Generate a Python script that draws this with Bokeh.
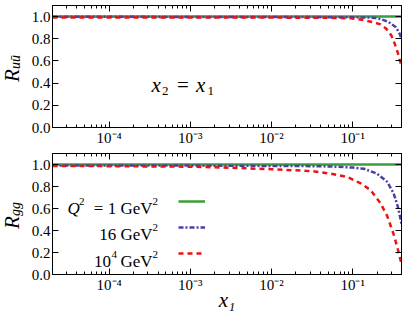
from bokeh.plotting import figure
from bokeh.layouts import column, row
from bokeh.models import (LogAxis, LinearAxis, FixedTicker, PrintfTickFormatter,
                          Label, Range1d, Legend, LegendItem)
from bokeh.embed import file_html
from bokeh.resources import INLINE

# ---------------- data ----------------
X_RANGE = (2e-5, 0.4)
Y_RANGE = (0.0, 1.1)

x_major = [1e-4, 1e-3, 1e-2, 1e-1]
x_major_labels = ["10⁻⁴", "10⁻³", "10⁻²", "10⁻¹"]
y_major = [0.0, 0.2, 0.4, 0.6, 0.8, 1.0]

series_names = ["Q² = 1 GeV²", "16 GeV²", "10⁴ GeV²"]

# R_{u ubar}
uu_q1_x = [2e-5, 1e-3, 0.1, 0.4]
uu_q1_y = [1.0, 1.0, 1.0, 1.0]
uu_q16_x = [2e-5, 1e-4, 1e-3, 1e-2, 0.05, 0.1, 0.15, 0.19, 0.22, 0.27, 0.30, 0.34, 0.37, 0.38, 0.40]
uu_q16_y = [0.998, 0.998, 0.997, 0.996, 0.995, 0.994, 0.992, 0.988, 0.978, 0.955, 0.935, 0.905, 0.86, 0.845, 0.80]
uu_q1e4_x = [2e-5, 1e-4, 1e-3, 1e-2, 0.03, 0.06, 0.095, 0.13, 0.158, 0.19, 0.22, 0.26, 0.30, 0.33, 0.36, 0.38, 0.40]
uu_q1e4_y = [0.992, 0.992, 0.992, 0.991, 0.99, 0.988, 0.984, 0.972, 0.958, 0.945, 0.93, 0.89, 0.83, 0.756, 0.675, 0.61, 0.56]

# R_{gg}
gg_q1_x = [2e-5, 1e-3, 0.1, 0.4]
gg_q1_y = [1.0, 1.0, 1.0, 1.0]
gg_q16_x = [2e-5, 1e-4, 1e-3, 1e-2, 0.03, 0.054, 0.1, 0.138, 0.2, 0.267, 0.32, 0.36, 0.39, 0.40]
gg_q16_y = [0.992, 0.991, 0.99, 0.987, 0.985, 0.982, 0.972, 0.961, 0.917, 0.842, 0.738, 0.619, 0.5, 0.45]
gg_q1e4_x = [2e-5, 1e-4, 1e-3, 0.004, 0.01, 0.02, 0.034, 0.054, 0.086, 0.126, 0.166, 0.22, 0.267, 0.32, 0.36, 0.39, 0.40]
gg_q1e4_y = [0.987, 0.985, 0.98, 0.968, 0.957, 0.947, 0.937, 0.917, 0.887, 0.828, 0.768, 0.649, 0.53, 0.366, 0.232, 0.128, 0.10]

# ---------------- style ----------------
FONT = "Liberation Serif"
GREEN = "#3a9e3a"
BLUE = "#4a3fa6"
RED = "#ee1111"
LW = 2.5
STRIP_W = 28
PAGE_H = 314

x_minor = [m * 10.0 ** e for e in range(-5, 0) for m in range(2, 10)
           if X_RANGE[0] < m * 10.0 ** e < X_RANGE[1]]


def style_axis(ax, labels=True):
    ax.axis_line_color = "black"
    ax.major_tick_line_color = "black"
    ax.minor_tick_line_color = "black"
    ax.major_tick_in = 6
    ax.major_tick_out = 0
    ax.minor_tick_in = 3
    ax.minor_tick_out = 0
    if labels:
        ax.major_label_text_font = FONT
        ax.major_label_text_font_size = "15px"
        ax.major_label_text_color = "black"
        ax.major_label_standoff = 2
    else:
        ax.major_label_text_font_size = "1px"
        ax.major_label_text_alpha = 0
        ax.major_label_standoff = 0


def make_fig(height, border_bottom):
    p = figure(width=407 - STRIP_W, height=height, x_axis_type="log",
               x_range=Range1d(*X_RANGE), y_range=Range1d(*Y_RANGE),
               output_backend="svg", toolbar_location=None,
               min_border_left=51 - STRIP_W, min_border_right=6,
               min_border_top=5, min_border_bottom=border_bottom)
    p.grid.visible = False
    p.outline_line_color = "black"
    p.background_fill_color = "white"
    p.border_fill_color = "white"

    xt = FixedTicker(ticks=x_major, minor_ticks=x_minor)
    yt = FixedTicker(ticks=y_major, minor_ticks=[])

    xa = p.xaxis[0]
    xa.ticker = xt
    xa.major_label_overrides = dict(zip(x_major, x_major_labels))
    style_axis(xa)
    ya = p.yaxis[0]
    ya.ticker = yt
    ya.formatter = PrintfTickFormatter(format="%.1f")
    style_axis(ya)

    top = LogAxis(ticker=xt)
    style_axis(top, labels=False)
    p.add_layout(top, "above")
    right = LinearAxis(ticker=yt)
    style_axis(right, labels=False)
    p.add_layout(right, "right")
    return p, xa


def txt(p, x, y, s, size, italic=False, align="left", baseline="alphabetic",
        angle=0.0, units="canvas"):
    p.add_layout(Label(x=x, y=y, x_units=units, y_units=units, text=s,
                       text_font=FONT, text_font_size=f"{size}px",
                       text_font_style="italic" if italic else "normal",
                       text_align=align, text_baseline=baseline, angle=angle,
                       text_color="black"))


# ---------------- top panel ----------------
p1, _ = make_fig(148, 20)
p1.line(uu_q1_x, uu_q1_y, line_color=GREEN, line_width=LW)
p1.line(uu_q16_x, uu_q16_y, line_color=BLUE, line_width=LW, line_dash="5 2 2 2")
p1.line(uu_q1e4_x, uu_q1e4_y, line_color=RED, line_width=LW, line_dash="5 4")

dx = -STRIP_W
txt(p1, 151 + dx, 84, "x", 21, italic=True)
txt(p1, 161.5 + dx, 90, "2", 13)
txt(p1, 182.5 + dx, 84, "=", 21, align="center")
txt(p1, 195.5 + dx, 84, "x", 21, italic=True)
txt(p1, 207 + dx, 90, "1", 13)

# ---------------- bottom panel ----------------
p2, xa2 = make_fig(166, 38)
r1 = p2.line(gg_q1_x, gg_q1_y, line_color=GREEN, line_width=LW)
r2 = p2.line(gg_q16_x, gg_q16_y, line_color=BLUE, line_width=LW, line_dash="5 2 2 2")
r3 = p2.line(gg_q1e4_x, gg_q1e4_y, line_color=RED, line_width=LW, line_dash="5 4")

legend = Legend(items=[LegendItem(label=" ", renderers=[r]) for r in (r1, r2, r3)],
                location=(126, 11), glyph_width=27, glyph_height=20, spacing=6,
                padding=0, margin=0, label_width=1, label_height=20,
                label_standoff=0, label_text_font_size="1px",
                border_line_alpha=0, background_fill_alpha=0)
p2.add_layout(legend)

# legend texts (to the left of the line samples)
txt(p2, 67 + dx, 59.5, "Q", 17, italic=True)
txt(p2, 78.5 + dx, 52.5, "2", 11)
txt(p2, 152 + dx, 59.5, "= 1 GeV", 17, align="right")
txt(p2, 152 + dx, 52.5, "2", 11)

txt(p2, 152 + dx, 86, "16 GeV", 17, align="right")
txt(p2, 152 + dx, 79, "2", 11)

txt(p2, 93.5 + dx, 112.5, "10", 17)
txt(p2, 111 + dx, 105.5, "4", 11)
txt(p2, 152 + dx, 112.5, "GeV", 17, align="right")
txt(p2, 152 + dx, 105.5, "2", 11)

# x-axis label
xa2.axis_label = "x₁"
xa2.axis_label_text_font = FONT
xa2.axis_label_text_font_size = "21px"
xa2.axis_label_text_font_style = "italic"
xa2.axis_label_text_color = "black"
xa2.axis_label_standoff = -8

# ---------------- left strip with the y-axis titles ----------------
strip = figure(width=STRIP_W, height=PAGE_H, x_range=Range1d(0, STRIP_W),
               y_range=Range1d(0, PAGE_H), output_backend="svg",
               toolbar_location=None, x_axis_type=None, y_axis_type=None,
               min_border=0)
strip.grid.visible = False
strip.outline_line_color = None
strip.background_fill_color = "white"
strip.border_fill_color = "white"

ANG = 1.5707963
txt(strip, 11.5, 75, "R", 21, italic=True, angle=ANG,
    align="center", baseline="middle")
txt(strip, 14.5, 61.5, "uū", 14, italic=True, angle=ANG,
    align="center", baseline="middle")
txt(strip, 11.5, 222, "R", 21, italic=True, angle=ANG,
    align="center", baseline="middle")
txt(strip, 14.5, 208.5, "gg", 14, italic=True, angle=ANG,
    align="center", baseline="middle")

layout = row(strip, column(p1, p2, spacing=0), spacing=0,
             styles={"position": "absolute", "left": "0px", "top": "0px"})

open("out.html", "w").write(file_html(layout, INLINE))
